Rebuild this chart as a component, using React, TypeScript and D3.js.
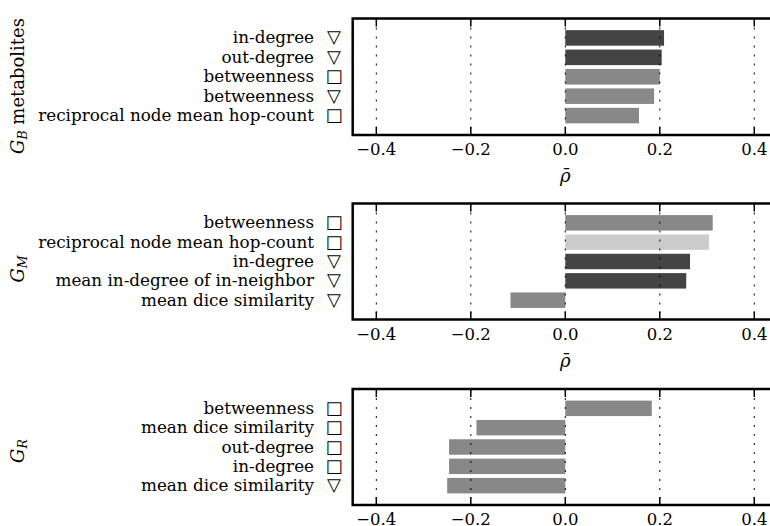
import * as d3 from "d3";

// G_B metabolites
const gbLabels = ["in-degree", "out-degree", "betweenness", "betweenness", "reciprocal node mean hop-count"];
const gbMarkers = ["tri", "tri", "sq", "tri", "sq"];
const gbValues = [0.209, 0.204, 0.2, 0.188, 0.156];
const gbShades = ["dark", "dark", "mid", "mid", "mid"];

// G_M
const gmLabels = ["betweenness", "reciprocal node mean hop-count", "in-degree", "mean in-degree of in-neighbor", "mean dice similarity"];
const gmMarkers = ["sq", "sq", "tri", "tri", "tri"];
const gmValues = [0.312, 0.304, 0.264, 0.256, -0.116];
const gmShades = ["mid", "light", "dark", "dark", "mid"];

// G_R
const grLabels = ["betweenness", "mean dice similarity", "out-degree", "in-degree", "mean dice similarity"];
const grMarkers = ["sq", "sq", "sq", "sq", "tri"];
const grValues = [0.183, -0.188, -0.246, -0.246, -0.25];
const grShades = ["mid", "mid", "mid", "mid", "mid"];

const xTicks = [-0.4, -0.2, 0, 0.2, 0.4];

const SHADE: Record<string, string> = { dark: "#444444", mid: "#888888", light: "#cccccc" };
const GLYPH: Record<string, string> = { tri: "\u25BD", sq: "\u25A1" };
const SERIF = "'DejaVu Serif', serif";

const W = 770;
const H = 526;
const x = d3.scaleLinear().domain([-0.45, 0.45]).range([352.7, 777.9]);
const fmt = d3.format(".1f");

type Panel = {
  labels: string[];
  markers: string[];
  values: number[];
  shades: string[];
  top: number;
  bottom: number;
  sub: string;
  rest: string;
  labelY: number;
  showXLabel: boolean;
};

const panels: Panel[] = [
  { labels: gbLabels, markers: gbMarkers, values: gbValues, shades: gbShades, top: 18.5, bottom: 135, sub: "B", rest: " metabolites", labelY: 86, showXLabel: true },
  { labels: gmLabels, markers: gmMarkers, values: gmValues, shades: gmShades, top: 203.5, bottom: 319.5, sub: "M", rest: "", labelY: 269, showXLabel: true },
  { labels: grLabels, markers: grMarkers, values: grValues, shades: grShades, top: 389, bottom: 505, sub: "R", rest: "", labelY: 451, showXLabel: false },
];

function PanelView({ p }: { p: Panel }) {
  const y = d3.scaleLinear().domain([-1, 5]).range([p.top, p.bottom]);
  const bh = y(0.4) - y(-0.4);
  const [x0, x1] = x.range();
  return (
    <g>
      {p.values.map((v, i) => (
        <rect
          key={"b" + i}
          x={x(Math.min(0, v))}
          y={y(i) - bh / 2}
          width={Math.abs(x(v) - x(0))}
          height={bh}
          fill={SHADE[p.shades[i]]}
        />
      ))}
      {xTicks.map((t) => (
        <g key={"g" + t}>
          <line x1={x(t)} x2={x(t)} y1={p.top} y2={p.bottom} stroke="#000" strokeWidth={1} strokeDasharray="2,7" />
          <line x1={x(t)} x2={x(t)} y1={p.top} y2={p.top + 8} stroke="#000" strokeWidth={1.5} />
          <line x1={x(t)} x2={x(t)} y1={p.bottom} y2={p.bottom - 8} stroke="#000" strokeWidth={1.5} />
          <text x={x(t)} y={p.bottom + 20} textAnchor="middle" fontFamily={SERIF} fontSize={16.5}>
            {fmt(t)}
          </text>
        </g>
      ))}
      <rect x={x0} y={p.top} width={x1 - x0} height={p.bottom - p.top} fill="none" stroke="#000" strokeWidth={2.5} />
      {p.labels.map((l, i) => (
        <g key={"l" + i}>
          <text x={314} y={y(i) + 5.5} textAnchor="end" fontFamily={SERIF} fontSize={16.8}>
            {l}
          </text>
          <text x={334} y={y(i) + 5.5} textAnchor="middle" fontFamily="'DejaVu Sans', sans-serif" fontSize={18}>
            {GLYPH[p.markers[i]]}
          </text>
        </g>
      ))}
      {p.showXLabel && (
        <text x={x(0)} y={p.bottom + 47} textAnchor="middle" fontFamily={SERIF} fontStyle="italic" fontSize={18}>
          {"\u03C1\u0304"}
        </text>
      )}
      <text transform={`translate(24,${p.labelY}) rotate(-90)`} textAnchor="middle" fontFamily={SERIF} fontSize={18}>
        <tspan fontStyle="italic">G</tspan>
        <tspan fontStyle="italic" fontSize={12.5} dy={3}>{p.sub}</tspan>
        {p.rest && <tspan dy={-3}>{p.rest}</tspan>}
      </text>
    </g>
  );
}

export default function App() {
  return (
    <div style={{ position: "fixed", left: 0, top: 0, width: W, height: H, background: "#fff" }}>
      <svg width={W} height={H} style={{ display: "block" }}>
        <rect width={W} height={H} fill="#fff" />
        {panels.map((p, i) => (
          <PanelView key={i} p={p} />
        ))}
      </svg>
    </div>
  );
}
